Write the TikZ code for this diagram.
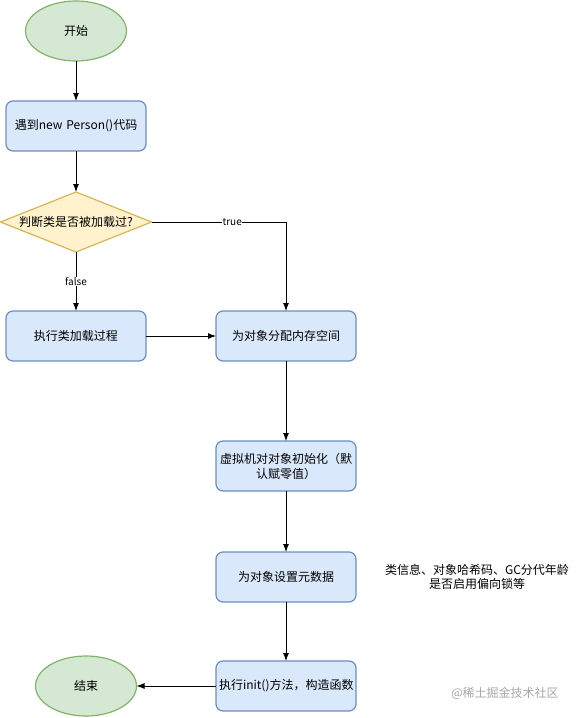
\documentclass[tikz,border=0pt]{standalone}
\usepackage{fontspec}
\setmainfont{Noto Sans CJK SC}
\usetikzlibrary{shapes.geometric,arrows.meta}
\definecolor{gfill}{HTML}{D5E8D4}
\definecolor{gline}{HTML}{82B366}
\definecolor{bfill}{HTML}{DAE8FC}
\definecolor{bline}{HTML}{6C8EBF}
\definecolor{yfill}{HTML}{FFF2CC}
\definecolor{yline}{HTML}{D6B656}
\tikzset{
  x=1pt, y=-1pt,
  every node/.style={font=\fontsize{12}{15}\selectfont, inner sep=0pt, outer sep=0pt},
  term/.style={ellipse, draw=gline, fill=gfill, line width=1.2pt, minimum width=101pt, minimum height=60pt},
  proc/.style={rectangle, rounded corners=7pt, draw=bline, fill=bfill, line width=1.2pt, minimum width=140pt, minimum height=50pt, align=center, text width=134pt},
  dec/.style={diamond, aspect=2.5, draw=yline, fill=yfill, line width=1.2pt, minimum width=151pt, minimum height=60pt, inner sep=0pt},
  conn/.style={draw=black, line width=0.9pt, -{Latex[length=8pt,width=6pt]}},
  lbl/.style={fill=white, font=\fontsize{10}{12}\selectfont, inner sep=0.5pt}
}
\begin{document}
\begin{tikzpicture}
\useasboundingbox (0,0) rectangle (577,718);
\node[term] (start) at (76,31) {开始};
\node[proc] (meet) at (76,126) {遇到new Person()代码};
\node[dec] (judge) at (76,222) {判断类是否被加载过?};
\node[proc] (load) at (76,336) {执行类加载过程};
\node[proc] (alloc) at (286,336) {为对象分配内存空间};
\node[proc] (zero) at (286,466) {虚拟机对对象初始化（默\\认赋零值）};
\node[proc] (meta) at (286,577) {为对象设置元数据};
\node[proc] (initm) at (286,686) {执行init()方法，构造函数};
\node[term] (end) at (86,686) {结束};
\node[align=center, font=\fontsize{12}{14}\selectfont] (note) at (477,577) {类信息、对象哈希码、GC分代年龄\\是否启用偏向锁等};
\node[text=black!35, font=\fontsize{12}{14}\selectfont] (wm) at (505,693) {@稀土掘金技术社区};
\draw[conn] (start) -- (meet);
\draw[conn] (meet) -- (judge);
\draw[conn] (judge) -- node[lbl] {false} (load);
\draw[conn] (judge.east) -| (alloc.north) node[lbl, pos=0.3] at (236,222) {true};
\draw[conn] (load) -- (alloc);
\draw[conn] (alloc) -- (zero);
\draw[conn] (zero) -- (meta);
\draw[conn] (meta) -- (initm);
\draw[conn] (initm) -- (end);
\end{tikzpicture}
\end{document}
